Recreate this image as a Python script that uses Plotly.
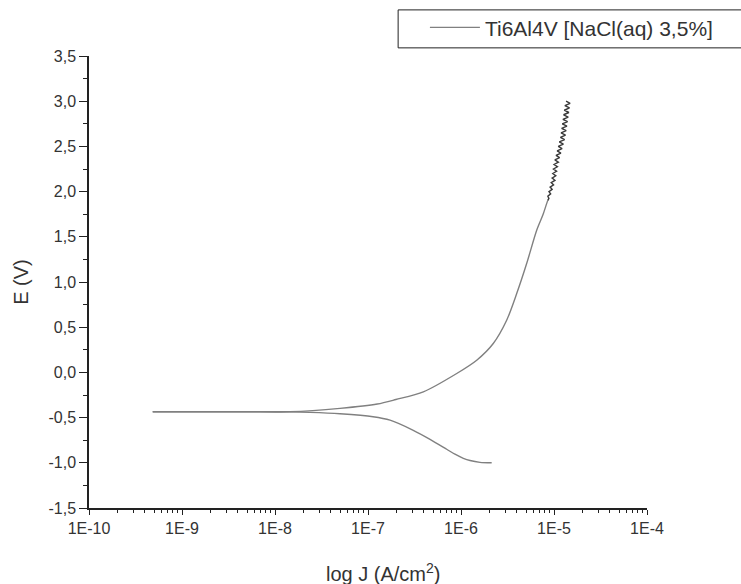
import plotly.graph_objects as go

# Cathodic branch: from -1.0 V up to the corrosion potential (log10 J, E)
cath_logj = [-5.670, -5.796, -5.903, -5.975, -6.065, -6.154, -6.333, -6.513,
             -6.763, -6.946, -7.301, -7.624, -7.839, -8.300, -8.800, -9.315]
cath_e = [-1.000, -0.995, -0.975, -0.950, -0.905, -0.850, -0.740, -0.640,
          -0.528, -0.490, -0.458, -0.442, -0.436, -0.436, -0.436, -0.436]

# Anodic branch: from the minimum current back up to ~1.9 V
anod_logj = [-9.315, -8.800, -8.300, -7.839, -7.301, -6.900, -6.700, -6.405,
             -6.046, -5.831, -5.653, -5.509, -5.401, -5.294, -5.186, -5.120, -5.079, -5.068]
anod_e = [-0.436, -0.436, -0.436, -0.436, -0.398, -0.350, -0.300, -0.215,
          -0.012, 0.135, 0.320, 0.577, 0.872, 1.204, 1.572, 1.740, 1.867, 1.900]

# Noisy high-potential part
noise_logj = [-5.068, -5.055, -5.066, -5.036, -5.054, -5.020, -5.042, -5.005, -5.030,
              -4.990, -5.020, -4.981, -5.013, -4.972, -5.006, -4.963, -4.999, -4.953,
              -4.991, -4.940, -4.978, -4.926, -4.966, -4.913, -4.954, -4.899, -4.943,
              -4.886, -4.931, -4.876, -4.924, -4.869, -4.918, -4.861, -4.911, -4.854,
              -4.904, -4.847, -4.897, -4.840, -4.890, -4.833, -4.883, -4.827, -4.870]
noise_e = [1.900, 1.925, 1.950, 1.975, 2.000, 2.025, 2.050, 2.075, 2.100,
           2.125, 2.150, 2.175, 2.200, 2.225, 2.250, 2.275, 2.300, 2.325,
           2.350, 2.375, 2.400, 2.425, 2.450, 2.475, 2.500, 2.525, 2.550,
           2.575, 2.600, 2.625, 2.650, 2.675, 2.700, 2.725, 2.750, 2.775,
           2.800, 2.825, 2.850, 2.875, 2.900, 2.925, 2.950, 2.975, 3.000]

x_tick_vals = [1e-10, 1e-9, 1e-8, 1e-7, 1e-6, 1e-5, 1e-4]
x_tick_text = ["1E-10", "1E-9", "1E-8", "1E-7", "1E-6", "1E-5", "1E-4"]
y_tick_vals = [-1.5, -1.0, -0.5, 0.0, 0.5, 1.0, 1.5, 2.0, 2.5, 3.0, 3.5]
y_tick_text = ["-1,5", "-1,0", "-0,5", "0,0", "0,5", "1,0", "1,5", "2,0", "2,5", "3,0", "3,5"]

series_name = "Ti6Al4V [NaCl(aq) 3,5%]"
x_title = "log J (A/cm<sup>2</sup>)"
y_title = "E (V)"

x_minor = [k * 10 ** n for n in range(-10, -4) for k in range(2, 10)]
y_minor = [v + 0.25 for v in y_tick_vals[:-1]]

FONT = "Arial, Liberation Sans, sans-serif"
LINE = "#808080"

fig = go.Figure()
fig.add_trace(go.Scatter(x=[10 ** v for v in cath_logj], y=cath_e, mode="lines",
                         showlegend=False, hoverinfo="skip",
                         line=dict(color=LINE, width=1.4, shape="spline", smoothing=0.8)))
fig.add_trace(go.Scatter(x=[10 ** v for v in anod_logj], y=anod_e, mode="lines",
                         name=series_name,
                         line=dict(color=LINE, width=1.4, shape="spline", smoothing=0.8)))
fig.add_trace(go.Scatter(x=[10 ** v for v in noise_logj], y=noise_e, mode="lines",
                         showlegend=False,
                         line=dict(color="#3a3a3a", width=1.4)))

# legend frame
fig.add_shape(type="rect", xref="paper", yref="paper",
              x0=0.554, x1=1.175, y0=1.018, y1=1.102,
              line=dict(color="#222222", width=1), fillcolor="white", layer="below")

fig.add_annotation(text=x_title, xref="paper", yref="paper", x=0.527, y=-0.1416,
                   xanchor="center", yanchor="middle", showarrow=False,
                   font=dict(size=20, color="#333333"))

fig.update_layout(
    width=741, height=584,
    margin=dict(l=89, r=94, t=56, b=76, autoexpand=False),
    paper_bgcolor="white", plot_bgcolor="white",
    font=dict(family=FONT, color="#333333", size=16),
    showlegend=True,
    legend=dict(x=0.602, y=1.108, xanchor="left", yanchor="top",
                borderwidth=0, bgcolor="rgba(0,0,0,0)",
                font=dict(size=21, color="#333333"), itemwidth=50),
)
fig.update_xaxes(type="log", range=[-10, -4], showgrid=False, zeroline=False,
                 showline=True, linecolor="#222222", linewidth=1.5,
                 ticks="outside", ticklen=5, tickwidth=1.3, tickcolor="#222222",
                 tickvals=x_tick_vals, ticktext=x_tick_text,
                 tickfont=dict(size=16),
                 minor=dict(tickvals=x_minor, ticks="outside", ticklen=3,
                            tickwidth=1, tickcolor="#222222"))
fig.update_yaxes(range=[-1.5, 3.5], showgrid=False, zeroline=False,
                 showline=True, linecolor="#222222", linewidth=1.5,
                 ticks="outside", ticklen=8, tickwidth=1.3, tickcolor="#222222",
                 tickvals=y_tick_vals, ticktext=y_tick_text,
                 tickfont=dict(size=16),
                 minor=dict(tickvals=y_minor, ticks="outside", ticklen=4,
                            tickwidth=1, tickcolor="#222222"),
                 title=dict(text=y_title, font=dict(size=20), standoff=14))

fig.write_html("out.html")
